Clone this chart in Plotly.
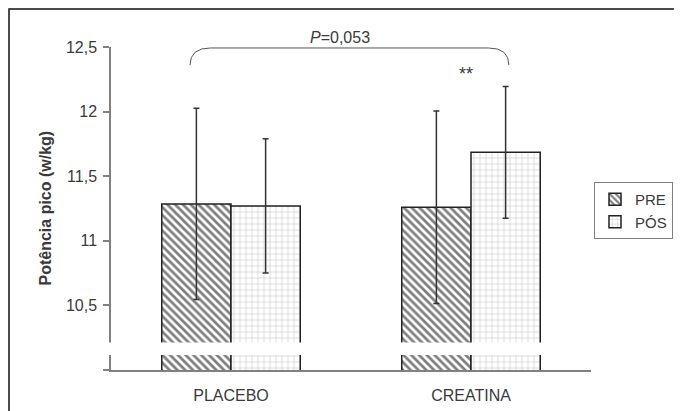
import plotly.graph_objects as go

categories = ["PLACEBO", "CREATINA"]
pre_values = [11.285, 11.26]
pos_values = [11.27, 11.685]
pre_err = [0.74, 0.745]
pos_err = [0.52, 0.51]
ytick_vals = [10, 10.5, 11, 11.5, 12, 12.5]
ytick_text = ["", "10,5", "11", "11,5", "12", "12,5"]

FONT = "Liberation Sans, Arial, sans-serif"
TXT = "#3a3a3a"

fig = go.Figure()
fig.add_trace(go.Bar(
    name="PRE", x=categories, y=pre_values,
    marker=dict(color="white", line=dict(color="#222222", width=1.5),
                pattern=dict(shape="\\", fgcolor="#000000", bgcolor="white",
                             size=5.5, solidity=0.5)),
    error_y=dict(type="data", array=pre_err, color="#333333", thickness=1.5, width=3),
))
fig.add_trace(go.Bar(
    name="PÓS", x=categories, y=pos_values,
    marker=dict(color="white", line=dict(color="#222222", width=1.5),
                pattern=dict(shape="+", fgcolor="#a8a8a8", bgcolor="white",
                             size=6, solidity=0.25)),
    error_y=dict(type="data", array=pos_err, color="#333333", thickness=1.5, width=3),
))

shapes = [
    # axis break band
    dict(type="rect", xref="paper", yref="y", x0=-0.03, x1=0.95, y0=10.116, y1=10.212,
         fillcolor="white", line=dict(width=0), layer="above"),
    # outer frame
    dict(type="rect", xref="paper", yref="paper", x0=-0.2125, x1=1.3, y0=-0.2, y1=1.1176,
         line=dict(color="#111111", width=1.5), fillcolor="rgba(0,0,0,0)", layer="above"),
    # brace
    dict(type="path", xref="paper", yref="paper",
         path="M 0.1646,0.944 Q 0.1646,0.997 0.2071,0.997 L 0.7865,0.997 Q 0.829,0.997 0.829,0.944",
         line=dict(color="#555555", width=1)),
]

annotations = [
    dict(text="<i>P</i>=0,053", xref="paper", yref="paper", x=(340 - 111) / 480, y=(370 - 37) / 323,
         showarrow=False, font=dict(family=FONT, size=16, color=TXT), xanchor="center", yanchor="middle"),
    dict(text="**", xref="paper", yref="paper", x=(466 - 111) / 480, y=(370 - 74) / 323,
         showarrow=False, font=dict(family=FONT, size=18, color=TXT), xanchor="center", yanchor="middle"),
    dict(text="<b>Potência pico (w/kg)</b>", xref="paper", yref="paper", x=(45 - 111) / 480, y=0.5,
         textangle=-90, showarrow=False, font=dict(family=FONT, size=16, color=TXT),
         xanchor="center", yanchor="middle"),
]

fig.update_layout(
    width=682, height=411,
    margin=dict(l=103, r=99, t=39, b=49, autoexpand=False),
    paper_bgcolor="white", plot_bgcolor="white",
    barmode="group", bargap=0.423, bargroupgap=0,
    separators=",.",
    font=dict(family=FONT, size=16, color=TXT),
    shapes=shapes, annotations=annotations,
    xaxis=dict(range=[-0.5, 1.5], showline=True, linecolor="#808080", linewidth=1.5,
               showgrid=False, ticks="", tickfont=dict(size=16, color=TXT), zeroline=False,
               automargin=False, ticklabelstandoff=10),
    yaxis=dict(range=[10, 12.5], showline=True, linecolor="#808080", linewidth=1.5,
               showgrid=False, zeroline=False, tickvals=ytick_vals, ticktext=ytick_text,
               ticks="outside", ticklen=6, tickcolor="#808080", tickwidth=1.5,
               tickfont=dict(size=16, color=TXT), automargin=False, ticklabelstandoff=3),
    legend=dict(xref="container", yref="container", x=(594 - 8) / 682, y=1 - (182 - 8) / 411,
                xanchor="left", yanchor="top",
                bordercolor="#808080", borderwidth=1, bgcolor="white",
                font=dict(family=FONT, size=15, color=TXT), itemwidth=30),
)

fig.write_html("out.html")
